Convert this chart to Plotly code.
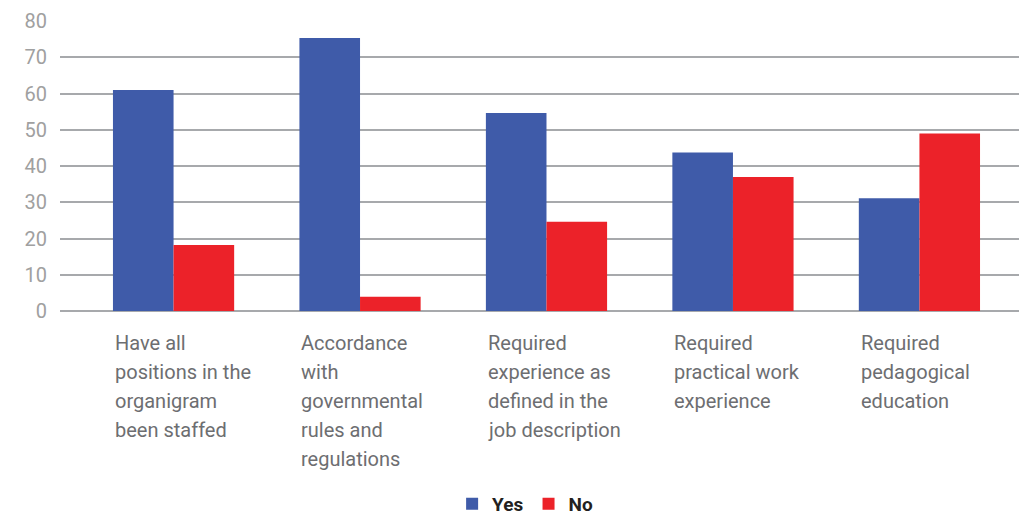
import plotly.graph_objects as go

categories = [
    "Have all positions in the organigram been staffed",
    "Accordance with governmental rules and regulations",
    "Required experience as defined in the job description",
    "Required practical work experience",
    "Required pedagogical education",
]
label_lines = [
    ["Have all", "positions in the", "organigram", "been staffed"],
    ["Accordance", "with", "governmental", "rules and", "regulations"],
    ["Required", "experience as", "defined in the", "job description"],
    ["Required", "practical work", "experience"],
    ["Required", "pedagogical", "education"],
]
yes_values = [61.0, 75.3, 54.6, 43.7, 31.1]
no_values = [18.2, 3.9, 24.6, 37.0, 49.0]
y_ticks = [0, 10, 20, 30, 40, 50, 60, 70, 80]

BLUE = "#3F5BA9"
RED = "#EC2229"
GRID = "#A7A9AC"
BARGAP = 0.35

fig = go.Figure()
fig.add_trace(go.Bar(name="Yes", x=categories, y=yes_values, marker_color=BLUE,
                     marker_line_width=0))
fig.add_trace(go.Bar(name="No", x=categories, y=no_values, marker_color=RED,
                     marker_line_width=0))

annotations = []
for i, lines in enumerate(label_lines):
    for k, line in enumerate(lines):
        annotations.append(dict(
            x=i - (1 - BARGAP) / 2, xref="x", xanchor="left",
            y=0, yref="paper", yanchor="top", yshift=-18 - 29 * k,
            text=line, showarrow=False, align="left",
            font=dict(family="Roboto", size=20, color="#6D6E71"),
        ))

fig.update_layout(
    width=1019, height=518,
    margin=dict(l=60, r=0, t=21, b=207, autoexpand=False),
    paper_bgcolor="white", plot_bgcolor="white",
    barmode="group", bargap=BARGAP, bargroupgap=0,
    font=dict(family="Roboto"),
    xaxis=dict(showticklabels=False, showgrid=False, showline=False, ticks="",
               range=[-0.609, 4.534]),
    yaxis=dict(range=[0, 80], tickvals=y_ticks, showgrid=True, gridcolor=GRID,
               gridwidth=2, zeroline=True, zerolinecolor=GRID, zerolinewidth=2,
               showline=False, ticks="", ticklabelstandoff=12,
               tickfont=dict(family="Roboto", size=20, color="#A0A0A0")),
    legend=dict(orientation="h", x=0.485, xanchor="center", y=-0.665, yanchor="middle",
                font=dict(family="Roboto", size=19, color="#231F20", weight="bold"),
                itemwidth=30, traceorder="normal", borderwidth=0),
    annotations=annotations,
)

fig.write_html("out.html")
